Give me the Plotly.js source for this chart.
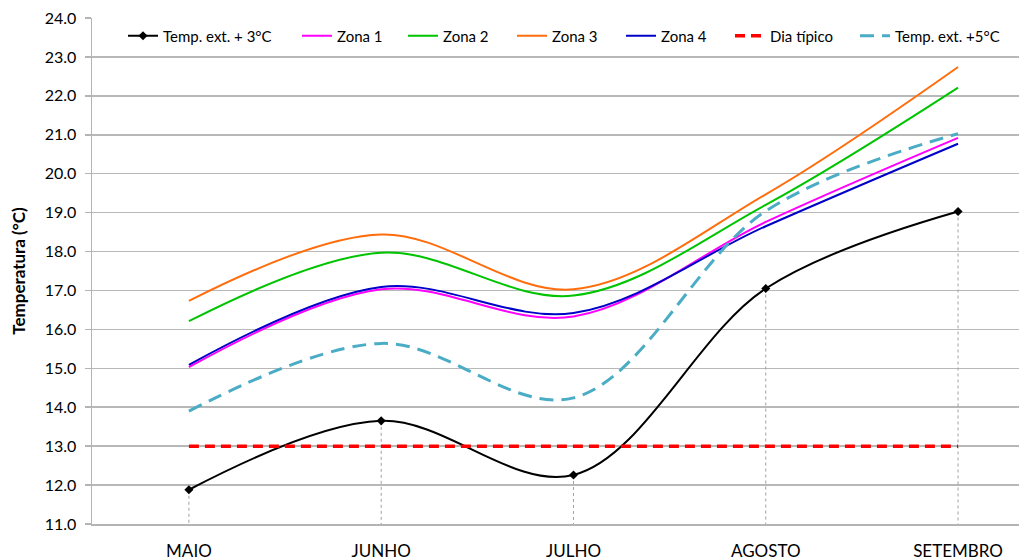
<!DOCTYPE html>
<html>
<head>
<meta charset="utf-8">
<script src="https://cdn.plot.ly/plotly-3.0.1.min.js"></script>
<style>
  html, body { margin: 0; padding: 0; background: #ffffff; }
  #chart { width: 1019px; height: 560px; }
</style>
</head>
<body>
<div id="chart"></div>
<script>
// Monthly mean temperatures (°C), May to September
const months = ['MAIO', 'JUNHO', 'JULHO', 'AGOSTO', 'SETEMBRO'];

const tempExt3 = [11.88, 13.65, 12.26, 17.05, 19.03];
const zona1    = [15.03, 17.03, 16.33, 18.76, 20.92];
const zona2    = [16.21, 17.97, 16.87, 19.20, 22.21];
const zona3    = [16.73, 18.44, 17.03, 19.47, 22.74];
const zona4    = [15.09, 17.09, 16.42, 18.65, 20.77];
const diaTipico = [13.0, 13.0, 13.0, 13.0, 13.0];
const tempExt5 = [13.90, 15.64, 14.24, 19.04, 21.03];

const seriesNames = ['Temp. ext. + 3°C', 'Zona 1', 'Zona 2', 'Zona 3', 'Zona 4', 'Dia típico', 'Temp. ext. +5°C'];

const yMin = 11;
const FONT = 'Lato, "Open Sans", sans-serif';

// Vertical drop lines from each outdoor (+3 °C) point down to the axis
const dropX = [], dropY = [];
months.forEach((m, i) => { dropX.push(m, m, null); dropY.push(tempExt3[i], yMin, null); });

const smooth = { shape: 'spline', smoothing: 1 };

const traces = [
  { x: dropX, y: dropY, mode: 'lines', showlegend: false, hoverinfo: 'skip',
    line: { color: '#a0a0a0', width: 1, dash: '3px,3px' } },
  { x: months, y: tempExt3, name: seriesNames[0], mode: 'lines+markers', legend: 'legend',
    line: Object.assign({ color: '#000000', width: 2 }, smooth),
    marker: { symbol: 'diamond', size: 7, color: '#000000' } },
  { x: months, y: zona1, name: seriesNames[1], mode: 'lines', legend: 'legend2',
    line: Object.assign({ color: '#ff00ff', width: 2 }, smooth) },
  { x: months, y: zona2, name: seriesNames[2], mode: 'lines', legend: 'legend3',
    line: Object.assign({ color: '#00c400', width: 2 }, smooth) },
  { x: months, y: zona3, name: seriesNames[3], mode: 'lines', legend: 'legend4',
    line: Object.assign({ color: '#ff6d0d', width: 2 }, smooth) },
  { x: months, y: zona4, name: seriesNames[4], mode: 'lines', legend: 'legend5',
    line: Object.assign({ color: '#0000c8', width: 2 }, smooth) },
  { x: months, y: diaTipico, name: seriesNames[5], mode: 'lines', legend: 'legend6',
    line: { color: '#ff0000', width: 3.5, dash: '10px,6px' } },
  { x: months, y: tempExt5, name: seriesNames[6], mode: 'lines', legend: 'legend7',
    line: Object.assign({ color: '#4bacc6', width: 3, dash: '14px,8px' }, smooth) }
];

// Left edge (px) of each legend entry's symbol
const legendStarts = [128, 302, 408, 517, 626, 735, 860];
const plotLeft = 92, plotWidth = 927;

const layout = {
  width: 1019, height: 560,
  margin: { l: plotLeft, r: 0, t: 18, b: 36 },
  paper_bgcolor: '#ffffff', plot_bgcolor: '#ffffff',
  font: { family: FONT, size: 14, color: '#000000' },
  hovermode: false,
  xaxis: {
    type: 'category', range: [-0.504, 4.317],
    showgrid: false, zeroline: false,
    showline: true, linecolor: '#b4b4b4', linewidth: 1.5,
    ticks: '', ticklabelstandoff: 11,
    tickfont: { family: FONT, size: 17, color: '#000000' },
    automargin: false, fixedrange: true
  },
  yaxis: {
    range: [11, 24], dtick: 1, tick0: 11, tickformat: '.1f',
    showgrid: true, gridcolor: '#b8b8b8', gridwidth: 1.5,
    zeroline: false, showline: true, linecolor: '#b4b4b4', linewidth: 1.5,
    ticks: 'outside', ticklen: 6, tickcolor: '#b4b4b4', tickwidth: 1.5,
    ticklabelstandoff: 5,
    tickfont: { family: FONT, size: 16, color: '#000000' },
    title: { text: 'Temperatura (°C)', standoff: 14,
             font: { family: FONT, size: 17, color: '#000000', weight: 'bold' } },
    automargin: false, fixedrange: true
  },
  showlegend: true
};

// One single-entry legend per series so each entry sits where it belongs
legendStarts.forEach((px, i) => {
  const key = i === 0 ? 'legend' : 'legend' + (i + 1);
  layout[key] = {
    x: (px - 5 - plotLeft) / plotWidth, xanchor: 'left',
    y: 1 - (36 - 18) / 506, yanchor: 'middle',
    orientation: 'h', bgcolor: 'rgba(0,0,0,0)', borderwidth: 0,
    font: { family: FONT, size: 15, color: '#000000' },
    itemclick: false, itemdoubleclick: false
  };
});

Plotly.newPlot('chart', traces, layout, { displayModeBar: false, staticPlot: true });
</script>
</body>
</html>
